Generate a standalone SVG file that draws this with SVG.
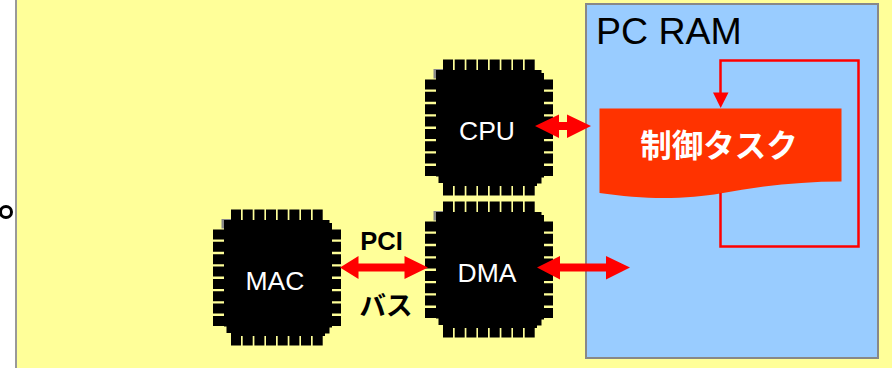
<svg xmlns="http://www.w3.org/2000/svg" width="892" height="368" viewBox="0 0 892 368">
<style>
.chiplabel{font-family:"Liberation Sans",Arial,sans-serif;font-size:26.500px;fill:#fff;text-anchor:middle}
.jp{font-family:"Liberation Sans","Noto Sans CJK JP",sans-serif;font-weight:bold}
.loop{fill:none;stroke:#f00;stroke-width:2.500}
</style>
<defs>
<g id="chip">
<path d="M8.500 19V9.500H18V11H11V19Z" fill="#888"/>
<path d="M11 10.500H116.500V13.500H119V118H116.500V124H112V126.500H18V123.500H13.500V117H11Z" fill="#000"/>
<path d="M18 0h10v11h-10zM29.700 0h10v11h-10zM41.400 0h10v11h-10zM53 0h10v11h-10zM64.700 0h10v11h-10zM76.400 0h10v11h-10zM88 0h10v11h-10zM99.700 0h10v11h-10z"/>
<path d="M18 126h10v10h-10zM29.700 126h10v10h-10zM41.400 126h10v10h-10zM53 126h10v10h-10zM64.700 126h10v10h-10zM76.400 126h10v10h-10zM88 126h10v10h-10zM99.700 126h10v10h-10z"/>
<path d="M0 20h11.500v10H0zM0 32.300h11.500v10H0zM0 44.700h11.500v10H0zM0 57h11.500v10H0zM0 69.400h11.500v10H0zM0 81.700h11.500v10H0zM0 94h11.500v10H0zM0 106.400h11.500v10H0z"/>
<path d="M118.500 20h9.500v10h-9.500zM118.500 32.300h9.500v10h-9.500zM118.500 44.700h9.500v10h-9.500zM118.500 57h9.500v10h-9.500zM118.500 69.400h9.500v10h-9.500zM118.500 81.700h9.500v10h-9.500zM118.500 94h9.500v10h-9.500zM118.500 106.400h9.500v10h-9.500z"/>
</g>
</defs>
<rect width="892" height="368" fill="#fff"/>
<g id="board"><rect x="16" y="-5" width="890" height="380" fill="#ff9" stroke="#999" stroke-width="2"/></g>
<g id="ram">
<rect x="586" y="4" width="292" height="354" fill="#9cf" stroke="#888" stroke-width="2"/>
<text x="596" y="43.500" font-family="'Liberation Sans',Arial,sans-serif" font-size="37.500" fill="#000">PC RAM</text>
</g>
<g id="task">
<path d="M599.500 108.500H841.500V181.500C800 181.500 760 186 720 193.500C705 196 685 198 663 198C645 198 620 196 599.500 193Z" fill="#f30"/>
<text x="719" y="157" class="jp" font-size="31.500" fill="#fff" text-anchor="middle">制御タスク</text>
</g>
<g id="cpu"><use href="#chip" x="425" y="59.500"/><text x="487" y="139.500" class="chiplabel">CPU</text></g>
<g id="dma"><use href="#chip" x="425" y="201.500"/><text x="487" y="281.500" class="chiplabel">DMA</text></g>
<g id="mac"><use href="#chip" x="213" y="209.500"/><text x="275" y="289.500" class="chiplabel">MAC</text></g>
<g id="connectors">
<path class="loop" d="M720.500 193V246.500H858.500V60.500H720.500V93"/>
<path d="M713 92.500H728.500L720.700 108Z" fill="#f00"/>
<path d="M535 126L559 114.500V122H567V114.500L591 126L567 138V130H559V138Z" fill="#f00"/>
<path d="M340 267.500L358.500 256V263.500H404.500V256L428 267.500L404.500 279V271.500H358.500V279Z" fill="#f00"/>
<path d="M537 267.500L560 256V263.500H606V256L630 267.500L606 279.500V271.500H560V279.500Z" fill="#f00"/>
</g>
<g id="labels">
<text x="381.500" y="249.500" class="jp" font-size="25.500" fill="#000" text-anchor="middle">PCI</text>
<text x="386" y="314.500" class="jp" font-size="26.500" fill="#000" text-anchor="middle">バス</text>
</g>
<circle cx="6" cy="212" r="5.500" fill="none" stroke="#000" stroke-width="3"/>
</svg>
